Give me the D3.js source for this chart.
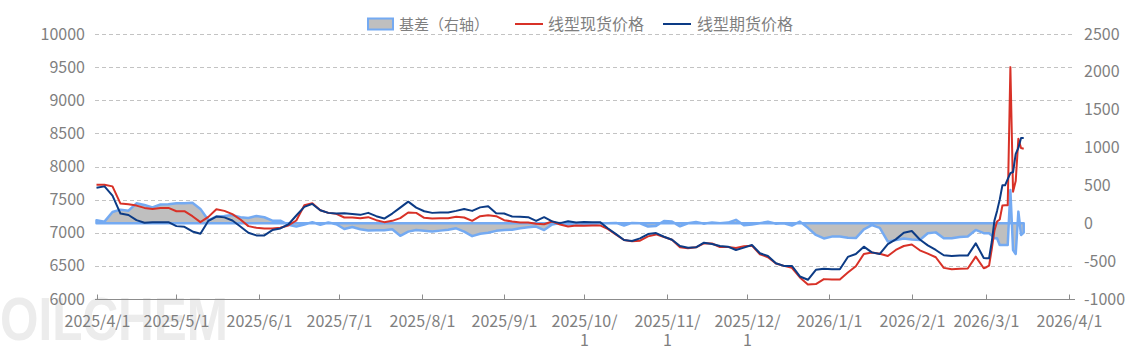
<!DOCTYPE html>
<html>
<head>
<meta charset="utf-8">
<script src="https://cdn.jsdelivr.net/npm/d3@7"></script>
<style>
  body { margin: 0; background: #fff; }
  svg text { font-family: "Noto Sans CJK SC", "Noto Sans", sans-serif; }
</style>
</head>
<body>
<svg id="chart" width="1135" height="361"></svg>
<script>
// Sample dates (every 3 days, daily in March 2026)
const dates = [
  "2025-04-01","2025-04-04","2025-04-07","2025-04-10","2025-04-13","2025-04-16","2025-04-19","2025-04-22","2025-04-25","2025-04-28",
  "2025-05-01","2025-05-04","2025-05-07","2025-05-10","2025-05-13","2025-05-16","2025-05-19","2025-05-22","2025-05-25","2025-05-28",
  "2025-05-31","2025-06-03","2025-06-06","2025-06-09","2025-06-12","2025-06-15","2025-06-18","2025-06-21","2025-06-24","2025-06-27",
  "2025-06-30","2025-07-03","2025-07-06","2025-07-09","2025-07-12","2025-07-15","2025-07-18","2025-07-21","2025-07-24","2025-07-27",
  "2025-07-30","2025-08-02","2025-08-05","2025-08-08","2025-08-11","2025-08-14","2025-08-17","2025-08-20","2025-08-23","2025-08-26",
  "2025-08-29","2025-09-01","2025-09-04","2025-09-07","2025-09-10","2025-09-13","2025-09-16","2025-09-19","2025-09-22","2025-09-25",
  "2025-09-28","2025-10-01","2025-10-04","2025-10-07","2025-10-10","2025-10-13","2025-10-16","2025-10-19","2025-10-22","2025-10-25",
  "2025-10-28","2025-10-31","2025-11-03","2025-11-06","2025-11-09","2025-11-12","2025-11-15","2025-11-18","2025-11-21","2025-11-24",
  "2025-11-27","2025-11-30","2025-12-03","2025-12-06","2025-12-09","2025-12-12","2025-12-15","2025-12-18","2025-12-21","2025-12-24",
  "2025-12-27","2025-12-30","2026-01-02","2026-01-05","2026-01-08","2026-01-11","2026-01-14","2026-01-17","2026-01-20","2026-01-23",
  "2026-01-26","2026-01-29","2026-02-01","2026-02-04","2026-02-07","2026-02-10","2026-02-13","2026-02-16","2026-02-19","2026-02-22",
  "2026-02-25","2026-02-28","2026-03-01","2026-03-02","2026-03-03","2026-03-04","2026-03-05","2026-03-06","2026-03-07","2026-03-08",
  "2026-03-09","2026-03-10","2026-03-11","2026-03-12","2026-03-13","2026-03-14","2026-03-15"
];

// 线型现货价格 (left axis)
const spotPrice = [
  7725,7725,7700,7440,7430,7410,7375,7360,7375,7375,
  7325,7325,7250,7160,7240,7355,7330,7280,7200,7100,
  7075,7065,7065,7075,7110,7185,7415,7445,7340,7300,
  7285,7230,7230,7220,7235,7190,7160,7180,7220,7306,
  7300,7225,7215,7220,7220,7240,7230,7180,7250,7265,
  7250,7190,7170,7153,7153,7135,7128,7170,7125,7095,
  7108,7105,7110,7110,7055,6970,6890,6870,6880,6945,
  6975,6935,6895,6780,6765,6780,6840,6838,6785,6785,
  6770,6795,6805,6675,6630,6535,6500,6470,6325,6220,
  6225,6300,6296,6296,6400,6495,6680,6703,6684,6650,
  6740,6800,6822,6735,6684,6630,6470,6450,6455,6460,
  6640,6465,6480,6505,6750,7030,7170,7200,7410,7415,
  7415,9500,7620,7780,8420,8280,8269
];

// 线型期货价格 (left axis)
const futuresPrice = [
  7680,7700,7560,7290,7268,7190,7150,7160,7160,7160,
  7100,7090,7020,6985,7180,7245,7232,7185,7095,7000,
  6960,6960,7040,7065,7125,7260,7390,7435,7340,7300,
  7290,7293,7283,7270,7300,7250,7214,7290,7380,7469,
  7380,7325,7300,7306,7306,7330,7357,7330,7383,7400,
  7295,7290,7245,7240,7235,7179,7235,7172,7145,7175,
  7155,7162,7160,7160,7065,6980,6890,6875,6915,6980,
  6995,6940,6895,6800,6775,6780,6850,6830,6800,6790,
  6740,6775,6815,6690,6650,6540,6500,6500,6340,6290,
  6440,6457,6449,6449,6635,6680,6790,6704,6680,6830,
  6900,7000,7026,6898,6810,6740,6660,6650,6655,6655,
  6840,6620,6615,6615,6860,7180,7330,7500,7716,7716,
  7810,7900,7917,8190,8280,8430,8430
];

// 基差 (right axis)
const basis = [
  40,22,150,180,167,264,242,210,248,250,
  264,264,270,190,40,90,95,108,80,70,
  97,80,35,35,-20,-44,-15,13,-20,10,
  -13,-75,-50,-79,-95,-93,-92,-80,-165,-110,
  -90,-100,-108,-97,-85,-66,-110,-170,-138,-125,
  -100,-88,-85,-65,-52,-44,-90,-15,5,-15,
  0,-10,-13,0,0,5,-30,5,0,-44,
  -35,30,22,-40,0,18,-5,10,0,9,
  45,-25,-15,0,20,-5,0,-30,22,-60,
  -154,-200,-176,-176,-190,-195,-80,-25,-60,-242,
  -220,-200,-215,-220,-132,-120,-198,-198,-180,-175,
  -88,-130,-130,-132,-160,-198,-198,-286,-286,-286,
  -286,440,-352,-405,154,-154,-123
];

const leftTicks = [6000, 6500, 7000, 7500, 8000, 8500, 9000, 9500, 10000];
const rightTicks = [-1000, -500, 0, 500, 1000, 1500, 2000, 2500];
const monthTicks = [
  "2025-04-01","2025-05-01","2025-06-01","2025-07-01","2025-08-01","2025-09-01","2025-10-01",
  "2025-11-01","2025-12-01","2026-01-01","2026-02-01","2026-03-01","2026-04-01"
];

const svg = d3.select("#chart");
const parse = d3.timeParse("%Y-%m-%d");
const fmt = d3.timeFormat("%Y/%-m/%-d");
const textColor = "#7f7f7f";

const x = d3.scaleTime()
  .domain([parse("2025-04-01"), parse("2026-04-01")])
  .range([96.5, 1069]);
const yL = d3.scaleLinear().domain([6000, 10000]).range([299, 34]);
const yR = d3.scaleLinear().domain([-1000, 2500]).range([299, 34]);

const data = dates.map((d, i) => ({
  date: parse(d), spot: spotPrice[i], fut: futuresPrice[i], basis: basis[i]
}));

// watermark
svg.append("text")
  .attr("x", 0).attr("y", 340)
  .attr("textLength", 228).attr("lengthAdjust", "spacingAndGlyphs")
  .style("font-family", "Liberation Sans, Arial, sans-serif")
  .style("font-size", "62px").style("font-weight", "bold")
  .attr("fill", "#ececec")
  .text("OILCHEM");

// dashed grid lines
svg.append("g").selectAll("line")
  .data(leftTicks.filter(t => t > 6000))
  .join("line")
  .attr("x1", 95).attr("x2", 1073)
  .attr("y1", d => Math.round(yL(d)) + 0.5).attr("y2", d => Math.round(yL(d)) + 0.5)
  .attr("stroke", "#c3c3c3").attr("stroke-dasharray", "4,3");

// left axis labels
svg.append("g").selectAll("text")
  .data(leftTicks).join("text")
  .attr("x", 85).attr("y", d => yL(d) + 5.5)
  .attr("text-anchor", "end")
  .attr("fill", textColor).style("font-size", "16px")
  .text(d => d);

// right axis labels
svg.append("g").selectAll("text")
  .data(rightTicks).join("text")
  .attr("x", 1084).attr("y", d => yR(d) + 5.5)
  .attr("text-anchor", "start")
  .attr("fill", textColor).style("font-size", "16px")
  .text(d => d);

// basis area (right axis)
const area = d3.area()
  .x(d => x(d.date))
  .y0(yR(0))
  .y1(d => yR(d.basis));
svg.append("path")
  .datum(data)
  .attr("d", area)
  .attr("fill", "#bfbfbf")
  .attr("stroke", "#74aaf2")
  .attr("stroke-width", 2.5)
  .attr("stroke-linejoin", "round");

// price lines
const spotLine = d3.line().x(d => x(d.date)).y(d => yL(d.spot));
const futLine = d3.line().x(d => x(d.date)).y(d => yL(d.fut));
svg.append("path").datum(data).attr("d", spotLine)
  .attr("fill", "none").attr("stroke", "#d83127").attr("stroke-width", 2)
  .attr("stroke-linejoin", "round");
svg.append("path").datum(data).attr("d", futLine)
  .attr("fill", "none").attr("stroke", "#0c3b85").attr("stroke-width", 2)
  .attr("stroke-linejoin", "round");

// x axis
const xAxis = svg.append("g").attr("transform", "translate(0,299.5)");
xAxis.append("line").attr("x1", 95).attr("x2", 1075)
  .attr("stroke", "#8c8c8c");
const ticks = xAxis.selectAll("g.tick")
  .data(monthTicks.map(parse)).join("g")
  .attr("class", "tick")
  .attr("transform", d => `translate(${Math.round(x(d)) + 0.5},0)`);
ticks.append("line").attr("y1", -5).attr("y2", 0).attr("stroke", "#8c8c8c");
ticks.each(function(d) {
  const label = fmt(d);
  const t = d3.select(this).append("text")
    .attr("text-anchor", "middle")
    .attr("fill", textColor).style("font-size", "16px");
  if (label.length > 8) {
    t.append("tspan").attr("x", 0).attr("y", 27).text(label.slice(0, -1));
    t.append("tspan").attr("x", 0).attr("y", 46).text(label.slice(-1));
  } else {
    t.attr("y", 27).text(label);
  }
});

// legend
const legend = svg.append("g");
legend.append("rect").attr("x", 368).attr("y", 18.5).attr("width", 25).attr("height", 11)
  .attr("fill", "#bfbfbf").attr("stroke", "#74aaf2").attr("stroke-width", 2);
legend.append("text").attr("x", 399).attr("y", 30)
  .attr("fill", textColor).style("font-size", "15px").text("基差（右轴）");
legend.append("line").attr("x1", 515).attr("x2", 543).attr("y1", 24).attr("y2", 24)
  .attr("stroke", "#d83127").attr("stroke-width", 2);
legend.append("text").attr("x", 548).attr("y", 30)
  .attr("fill", textColor).style("font-size", "16px").text("线型现货价格");
legend.append("line").attr("x1", 663).attr("x2", 691).attr("y1", 24).attr("y2", 24)
  .attr("stroke", "#0c3b85").attr("stroke-width", 2);
legend.append("text").attr("x", 697).attr("y", 30)
  .attr("fill", textColor).style("font-size", "16px").text("线型期货价格");
</script>
</body>
</html>
